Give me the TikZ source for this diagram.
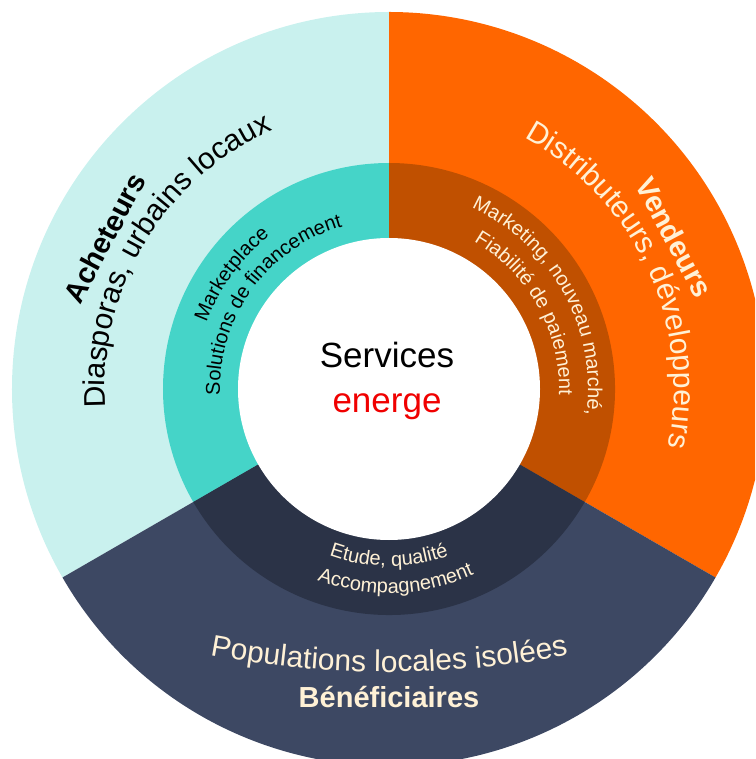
\documentclass[tikz,border=0pt]{standalone}
\usepackage{fontspec}
\setmainfont{Liberation Sans}
\usetikzlibrary{decorations.text}

\definecolor{achlight}{HTML}{C9F1EE}
\definecolor{venorange}{HTML}{FF6600}
\definecolor{benenavy}{HTML}{3D4863}
\definecolor{achteal}{HTML}{45D4C8}
\definecolor{venbrown}{HTML}{C05000}
\definecolor{benedark}{HTML}{2B3347}
\definecolor{cream}{HTML}{FFF1D6}
\definecolor{energered}{HTML}{F00000}

\tikzset{
  ringtext/.style={decorate, decoration={text along path, text align=center, text={#1}}},
  title/.style={anchor=base, font=\fontsize{29pt}{34pt}\selectfont\bfseries},
}
\newcommand{\bigsub}{\fontsize{30pt}{36pt}\selectfont}
\newcommand{\smallsub}{\fontsize{20pt}{24pt}\selectfont}

\begin{document}
\begin{tikzpicture}[x=1pt, y=1pt]
 \useasboundingbox (-389,-370) rectangle (366,389);
 \clip (-389,-370) rectangle (366,389);

 % outer ring
 \fill[achlight] (0,0) -- (90:377) arc[start angle=90, end angle=210, radius=377] -- cycle;
 \fill[venorange] (0,0) -- (-30:377) arc[start angle=-30, end angle=90, radius=377] -- cycle;
 \fill[benenavy] (0,0) -- (210:377) arc[start angle=210, end angle=330, radius=377] -- cycle;

 % inner ring
 \fill[achteal] (0,0) -- (90:226) arc[start angle=90, end angle=210, radius=226] -- cycle;
 \fill[venbrown] (0,0) -- (-30:226) arc[start angle=-30, end angle=90, radius=226] -- cycle;
 \fill[benedark] (0,0) -- (210:226) arc[start angle=210, end angle=330, radius=226] -- cycle;
 \fill[white] (0,0) circle[radius=151];

 % acheteurs
 \node[title, rotate=62] (acheteurs) at (152:312) {Acheteurs};
 \path[ringtext={|\bigsub\color{black}|Diasporas, urbains locaux}] (210:284) arc[start angle=210, end angle=88, radius=284];
 \path[ringtext={|\smallsub\color{black}|Marketplace}] (210:194) arc[start angle=210, end angle=78, radius=194];
 \path[ringtext={|\smallsub\color{black}|Solutions de financement}] (210:169) arc[start angle=210, end angle=78, radius=169];

 % vendeurs
 \node[title, cream, rotate=-62] (vendeurs) at (28:313) {Vendeurs};
 \path[ringtext={|\bigsub\color{cream}|Distributeurs, développeurs}] (87:285) arc[start angle=87, end angle=-37, radius=285];
 \path[ringtext={|\smallsub\color{cream}|Marketing, nouveau marché,}] (90:199) arc[start angle=90, end angle=-32, radius=199];
 \path[ringtext={|\smallsub\color{cream}|Fiabilité de paiement}] (90:170) arc[start angle=90, end angle=-32, radius=170];

 % beneficiaires
 \node[title, cream] (benef) at (0,-318) {Bénéficiaires};
 \path[ringtext={|\bigsub\color{cream}|Populations locales isolées}] ([shift={(0,687)}]250:970) arc[start angle=250, end angle=290, radius=970];
 \path[ringtext={|\smallsub\color{cream}|Etude, qualité}] (210:177) arc[start angle=210, end angle=330, radius=177];
 \path[ringtext={|\smallsub\color{cream}|Accompagnement}] (212:204) arc[start angle=212, end angle=332, radius=204];

 % centre
 \node[anchor=base, font=\fontsize{35pt}{42pt}\selectfont] (services) at (-2,21) {Services};
 \node[anchor=base, energered, font=\fontsize{35pt}{42pt}\selectfont] (energe) at (-2,-24) {energe};
\end{tikzpicture}
\end{document}
